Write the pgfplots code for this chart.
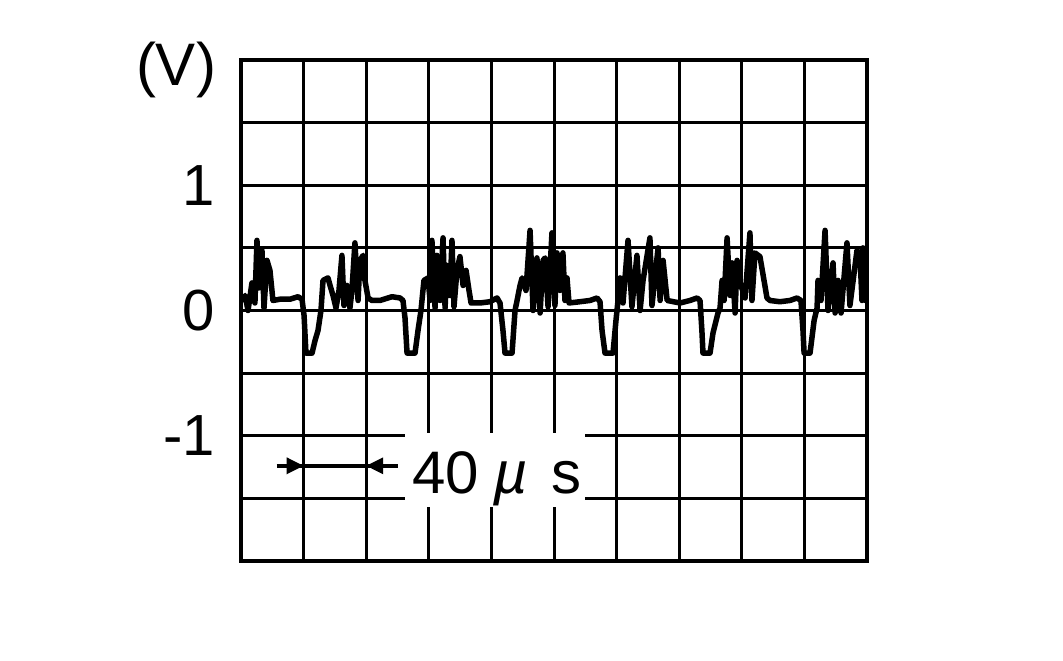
\documentclass[border=0pt]{standalone}
\usepackage{pgfplots}
\pgfplotsset{compat=1.18}
\usepackage{fontspec}
\setmainfont{Liberation Sans}
\usetikzlibrary{arrows.meta}
\begin{document}
\begin{tikzpicture}[x=1pt,y=1pt]
\path[use as bounding box] (0,0) rectangle (1063,661);
\begin{axis}[
  at={(241pt,100pt)}, anchor=south west,
  width=626pt, height=501pt, scale only axis,
  xmin=0, xmax=400, ymin=-2, ymax=2,
  xtick={0,40,...,400}, xticklabels={},
  ytick={-1.5,-1,-0.5,0,0.5,1,1.5},
  yticklabels={,-1,,0,,1,},
  major tick length=0pt,
  grid=major,
  major grid style={black, line width=3pt},
  axis line style={black, line width=4pt},
  yticklabel style={font=\fontsize{58}{60}\selectfont, inner sep=0pt, xshift=-26pt, anchor=east},
  clip=true,
]
\addplot[black, line width=5.5pt, line join=round] coordinates {
(0,0.08) (1.9,0.10) (2.6,0.12) (4.5,0.0) (7.0,0.22) (8.9,0.06) (10.2,0.56) (11.5,0.18) (13.4,0.48) (14.7,0.02) (16.6,0.40) (18.5,0.32) (20.4,0.08) (24.9,0.09) (31.3,0.09) (36.4,0.11) (39.0,0.09)
(40.3,-0.04) (41.5,-0.34) (45.4,-0.34) (47.3,-0.24) (49.2,-0.16) (51.1,0.0) (52.4,0.24) (55.6,0.26) (56.9,0.20) (58.8,0.12) (60.7,0.02) (62.6,0.16) (64.5,0.44) (65.8,0.04) (67.7,0.20) (69.6,0.02) (70.9,0.16) (72.8,0.54) (74.8,0.08) (76.0,0.40) (78.0,0.44) (79.2,0.24) (81.2,0.10) (83.7,0.08)
(88.8,0.08) (96.5,0.11) (101.6,0.10) (103.5,0.08)
(104.8,-0.06) (106.1,-0.34) (111.2,-0.34) (113.1,-0.16) (115.0,0.0) (116.9,0.24) (119.5,0.26) (120.8,0.08) (122.0,0.56) (124.0,0.02) (125.2,0.44) (127.2,0.08) (129.1,0.58) (130.4,0.02) (131.6,0.36) (133.5,0.12) (134.8,0.56) (136.1,0.03) (138.0,0.32) (139.9,0.43) (141.9,0.20) (143.8,0.32) (145.7,0.16) (147.0,0.06)
(152.7,0.06) (159.1,0.07) (163.6,0.10) (165.5,0.06)
(167.4,-0.16) (168.7,-0.34) (173.2,-0.34) (175.1,0.0) (176.4,0.08) (178.3,0.20) (179.6,0.26) (182.1,0.16) (184.7,0.64) (186.6,0.0) (189.1,0.42) (191.1,-0.02) (193.0,0.40) (194.3,0.42) (196.2,0.03) (198.7,0.62) (200.6,0.04) (201.9,0.46) (203.8,0.16) (205.7,0.46) (207.0,0.08) (208.3,0.26) (209.6,0.06)
(216.6,0.07) (223.0,0.08) (227.5,0.10) (229.4,0.07)
(230.7,-0.16) (232.6,-0.34) (237.7,-0.34) (239.6,-0.08) (240.9,0.08) (242.2,0.26) (244.1,0.06) (247.3,0.56) (249.8,0.03) (253.0,0.44) (255.0,0.0) (256.9,0.24) (261.3,0.58) (262.6,0.04) (266.5,0.50) (267.8,0.08) (269.7,0.40) (272.3,0.08)
(280.5,0.06) (286.9,0.08) (291.4,0.10) (293.3,0.08)
(294.5,-0.16) (295.2,-0.34) (299.7,-0.34) (301.6,-0.18) (304.8,-0.02) (306.1,0.02) (307.4,0.24) (308.7,0.08) (310.6,0.58) (312.5,0.12) (313.8,0.38) (315.7,-0.02) (317.0,0.40) (318.9,0.22) (322.1,0.10) (325.2,0.62) (326.5,0.08) (328.4,0.46) (331.6,0.43) (334.2,0.24) (336.1,0.10) (338.0,0.08)
(344.4,0.07) (350.8,0.08) (355.3,0.10) (357.8,0.08)
(359.1,-0.16) (359.8,-0.34) (363.6,-0.34) (366.2,-0.08) (368.1,0.02) (368.7,0.24) (370.6,0.08) (373.2,0.64) (375.1,0.0) (378.3,0.38) (379.6,-0.02) (381.5,0.24) (383.4,-0.02) (387.2,0.54) (389.1,0.04) (393.6,0.48) (395.5,0.44) (396.8,0.08) (397.4,0.50) (398.7,0.08) (400.0,0.10)
};
\fill[white] (axis cs:104.8,-0.98) rectangle (axis cs:219.8,-1.57);
\draw[black, line width=3.5pt] (axis cs:23,-1.24) -- (axis cs:100,-1.24);
\draw[black, line width=3.5pt, -{Triangle[length=17pt,width=16pt]}] (axis cs:23,-1.24) -- (axis cs:40,-1.24);
\draw[black, line width=3.5pt, -{Triangle[length=17pt,width=16pt]}] (axis cs:100,-1.24) -- (axis cs:80,-1.24);
\node[anchor=base west, inner sep=0pt, font=\fontsize{60}{62}\selectfont] at (axis cs:109.5,-1.46) {40\hspace{14pt}{\itshape µ}\hspace{24pt}s};
\end{axis}
\node[inner sep=0pt, font=\fontsize{60}{62}\selectfont] at (176,591) {(V)};
\end{tikzpicture}
\end{document}
